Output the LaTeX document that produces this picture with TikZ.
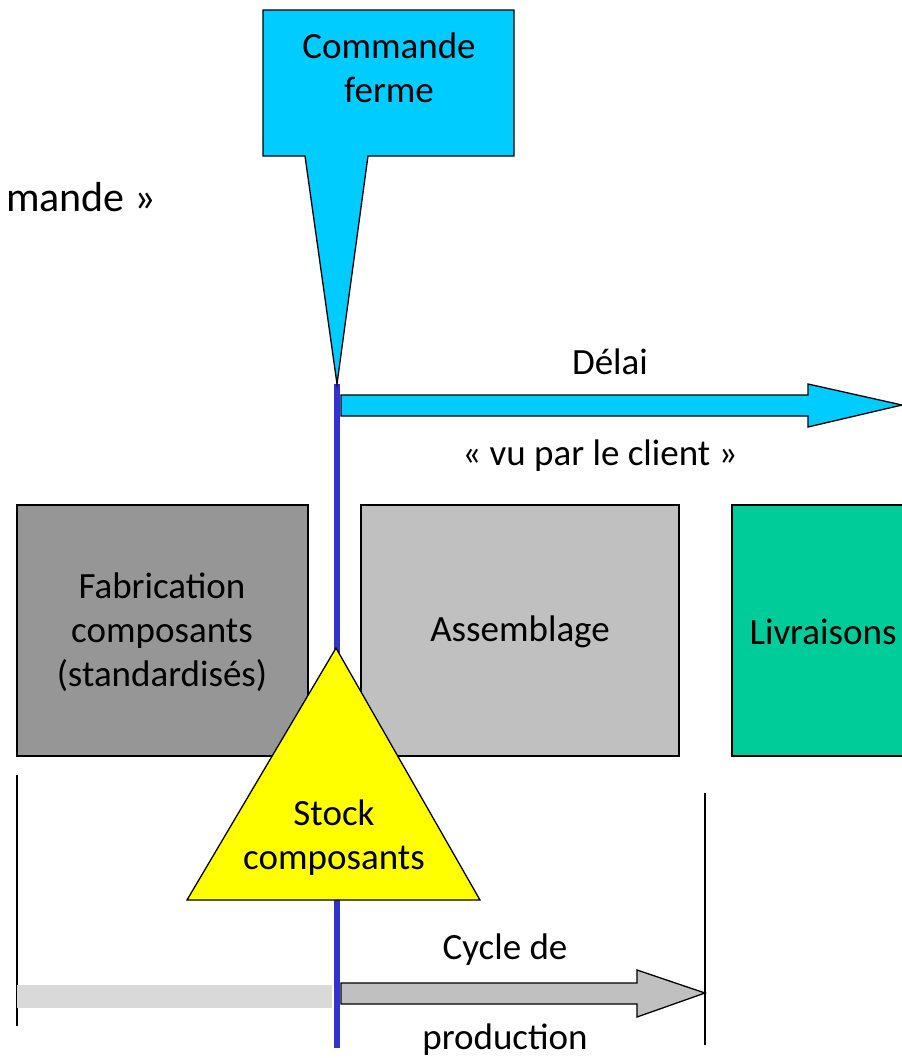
\documentclass[tikz,border=0pt]{standalone}
\usepackage{fontspec}
\setmainfont{Carlito}

\definecolor{cmdcyan}{HTML}{00CCFF}
\definecolor{axisblue}{HTML}{3333CC}
\definecolor{fabgray}{HTML}{969696}
\definecolor{asmgray}{HTML}{C0C0C0}
\definecolor{livgreen}{HTML}{00CC99}
\definecolor{stockyellow}{HTML}{FFFF00}
\definecolor{bargray}{HTML}{D9D9D9}

\begin{document}
\begin{tikzpicture}[x = 1pt, y = -1pt]
\tikzstyle{BoxStyle}=[draw, line width = 1.3pt, line join = miter]
\tikzstyle{TextStyle}=[font = \fontsize{37}{44}\selectfont,
                       align = center,
                       inner sep = 0pt]
\useasboundingbox (0,0) rectangle (902,1058);
% process boxes
\filldraw[BoxStyle, fill = fabgray] (17,505) rectangle (308,756);
\filldraw[BoxStyle, fill = asmgray] (361,505) rectangle (679,756);
\filldraw[BoxStyle, fill = livgreen] (732,505) rectangle (904,756);
\node[TextStyle] (fab) at (162,632) {Fabrication\\composants\\(standardisés)};
\node[TextStyle] (asm) at (520,632) {Assemblage};
\node[TextStyle] (liv) at (823,632) {Livraisons};
% decoupling point
\coordinate (top) at (337,384);
\coordinate (bottom) at (337,1048);
\draw[axisblue, line width = 6pt] (top) -- (bottom);
% customer order callout
\filldraw[BoxStyle, fill = cmdcyan] (263,10) -- (514,10) -- (514,156)
  -- (368,156) -- (top) -- (305,156) -- (263,156) -- cycle;
\node[TextStyle] (cmd) at (389,68) {Commande\\ferme};
\node[TextStyle, font = \fontsize{42}{50}\selectfont, anchor = base east]
  (title) at (156,211) {mande »};
% delay seen by the customer
\filldraw[BoxStyle, fill = cmdcyan] (341,395) -- (808,395) -- (808,384)
  -- (902,405) -- (808,427) -- (808,416) -- (341,416) -- cycle;
\node[TextStyle] (delai) at (610,362) {Délai};
\node[TextStyle] (client) at (600,456) {« vu par le client »};
% stock
\coordinate (apex) at (336,648);
\filldraw[BoxStyle, fill = stockyellow] (apex) -- (480,900) -- (187,900) -- cycle;
\node[TextStyle] (stock) at (334,838) {Stock\\composants};
% production cycle
\draw[line width = 1.5pt] (17,775) -- (17,1026);
\draw[line width = 1.5pt] (705,793) -- (705,1045);
\fill[bargray] (17,985) rectangle (332,1008);
\filldraw[BoxStyle, fill = asmgray] (341,983) -- (637,983) -- (637,970)
  -- (705,993) -- (637,1017) -- (637,1004) -- (341,1004) -- cycle;
\node[TextStyle] (cycle) at (505,950) {Cycle de};
\node[TextStyle] (prod) at (505,1040) {production};
\end{tikzpicture}
\end{document}
